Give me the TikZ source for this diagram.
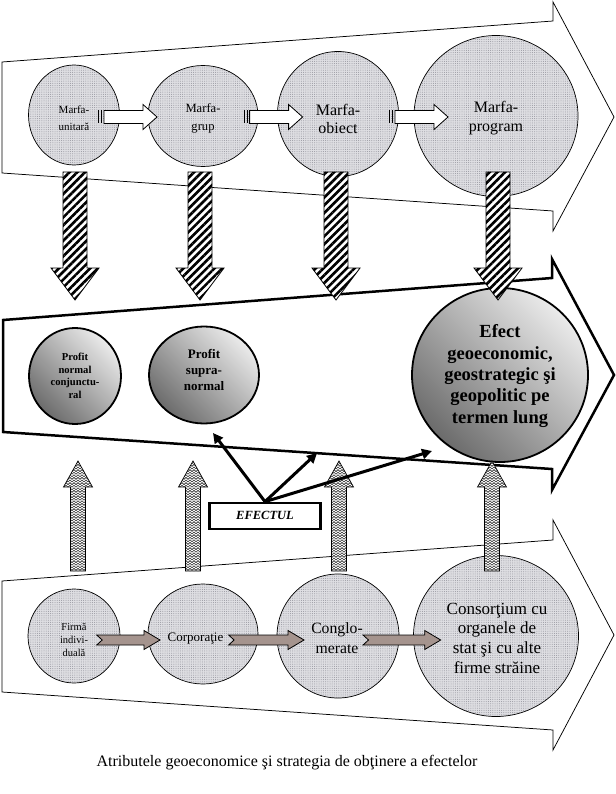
\documentclass[tikz,border=0pt]{standalone}
\usepackage{fontspec}
\setmainfont{Liberation Serif}
\usetikzlibrary{shapes.geometric,arrows.meta,patterns,patterns.meta}

\definecolor{marble}{RGB}{222,222,226}
\definecolor{marbdot}{RGB}{150,150,158}
\definecolor{notchc}{RGB}{165,148,142}

\tikzdeclarepattern{
  name=zz,
  type=uncolored,
  bounding box={(0pt,-0.5pt) and (4pt,2.5pt)},
  tile size={(4pt,2.6pt)},
  code={\draw[line width=0.6pt] (0pt,0pt) -- (2pt,2pt) -- (4pt,0pt);}
}

\newcommand\mkdown[1]{\draw[hatcharrow] (#1-12,172) -- (#1+12,172) -- (#1+12,268) -- (#1+24,268) -- (#1,300) -- (#1-24,268) -- (#1-12,268) -- cycle;}
\newcommand\mkup[1]{\draw[zzarrow] (#1-7.5,571) -- (#1-7.5,487) -- (#1-14.5,487) -- (#1,461) -- (#1+14.5,487) -- (#1+7.5,487) -- (#1+7.5,571) -- cycle;}
\newcommand\mkstripe[1]{%
  \fill (#1,110.5) rectangle (#1+1.4,123.5);
  \fill (#1+3,110.5) rectangle (#1+4.4,123.5);
  \draw[stripearrow] (#1+6,110.5) -- (#1+45,110.5) -- (#1+45,104.5) -- (#1+59,117) -- (#1+45,129.5) -- (#1+45,123.5) -- (#1+6,123.5) -- cycle;}
\newcommand\mknotch[2]{\draw[notcharrow] (#1,635) -- (#2-16,635) -- (#2-16,630.5) -- (#2,640) -- (#2-16,649.5) -- (#2-16,645) -- (#1,645) -- (#1+5.5,640) -- cycle;}

\tikzset{
  bigarrow/.style={draw, line width=0.75pt, fill=white},
  midarrow/.style={draw, line width=2.5pt, fill=white},
  marb/.style={ellipse, draw, line width=0.7pt, preaction={fill=marble}, pattern={Dots[radius=0.5pt,distance=2.2pt]}, pattern color=marbdot, inner sep=0pt},
  shd/.style={ellipse, draw, line width=1.8pt, inner sep=0pt, top color=black!8, bottom color=black!58, shading angle=-45},
  hatcharrow/.style={line width=0.8pt, preaction={fill=white}, pattern={Lines[angle=45,distance=5.5pt,line width=2.6pt]}},
  zzarrow/.style={line width=0.7pt, preaction={fill=white}, pattern=zz, pattern color=black!85},
  stripearrow/.style={line width=0.8pt, fill=white},
  notcharrow/.style={line width=0.8pt, fill=notchc},
  efbox/.style={draw, line width=2.3pt, fill=white, minimum width=111pt, minimum height=26pt, inner sep=0pt},
  efline/.style={line width=3pt, -{Triangle[length=10pt,width=10pt]}},
  lbl/.style={align=center, inner sep=0pt},
}

\begin{document}
\begin{tikzpicture}[x=1pt,y=-1pt]
\useasboundingbox (0,0) rectangle (615,794);

% big arrows
\draw[bigarrow] (2,62) -- (553,21) -- (553,2) -- (614,117) -- (553,231) -- (553,211) -- (2,173) -- cycle;
\draw[midarrow] (3,320) -- (552,278) -- (552,259) -- (614,375) -- (552,490) -- (552,469) -- (3,432) -- cycle;
\draw[bigarrow] (2,581) -- (553,540) -- (553,520) -- (614,635) -- (553,750) -- (553,730) -- (2,692) -- cycle;

% top row circles
\node[marb, minimum width=91pt, minimum height=100pt] (u1) at (74,115) {};
\node[marb, minimum width=110pt, minimum height=101pt] (u2) at (203,116) {};
\node[marb, minimum width=121pt, minimum height=125pt] (u3) at (338,114) {};
\node[marb, minimum width=164pt, minimum height=161pt] (u4) at (496,116) {};

% bottom row circles
\node[marb, minimum width=92pt, minimum height=94pt] (b1) at (74,636) {};
\node[marb, minimum width=110pt, minimum height=100pt] (b2) at (203,634) {};
\node[marb, minimum width=122pt, minimum height=124pt] (b3) at (338,636) {};
\node[marb, minimum width=165pt, minimum height=161pt] (b4) at (496,636) {};

% middle circles
\node[shd, minimum width=92pt, minimum height=96pt] (m1) at (75,376) {};
\node[shd, minimum width=110pt, minimum height=97pt] (m2) at (204,375) {};
\node[shd, minimum width=176pt, minimum height=174pt] (m3) at (500,375) {};

% texts top row
\node[lbl, font=\fontsize{11}{17}\selectfont] (tu1) at (74,118) {Marfa-\\unitară};
\node[lbl, font=\fontsize{12.6}{18}\selectfont] (tu2) at (203,118) {Marfa-\\grup};
\node[lbl, font=\fontsize{16}{18}\selectfont] (tu3) at (338,119) {Marfa-\\obiect};
\node[lbl, font=\fontsize{16}{19}\selectfont] (tu4) at (496,118) {Marfa-\\program};

% texts bottom row
\node[lbl, font=\fontsize{10.5}{13.3}\selectfont] (tb1) at (74,640) {Firmă\\indivi-\\duală};
\node[lbl, font=\fontsize{13}{15}\selectfont] (tb2) at (195.5,639) {Corporaţie};
\node[lbl, font=\fontsize{15.7}{20}\selectfont] (tb3) at (337,638) {Conglo-\\merate};
\node[lbl, font=\fontsize{17}{19.7}\selectfont] (tb4) at (497,638) {Consorţium cu\\organele de\\stat şi cu alte\\firme străine};

% texts middle
\node[lbl, font=\fontsize{10.6}{12.6}\selectfont\bfseries] (tm1) at (75,376) {Profit\\normal\\conjunctu-\\ral};
\node[lbl, font=\fontsize{13}{16}\selectfont\bfseries] (tm2) at (204,370) {Profit\\supra-\\normal};
\node[lbl, font=\fontsize{18.5}{21.4}\selectfont\bfseries] (tm3) at (500,376) {Efect\\geoeconomic,\\geostrategic şi\\geopolitic pe\\termen lung};

% striped arrows (top row)
\mkstripe{98}
\mkstripe{243.6}
\mkstripe{389}

% notched arrows (bottom row)
\mknotch{96.7}{160}
\mknotch{228.6}{304}
\mknotch{363}{440.7}

% hatched down arrows
\mkdown{75}
\mkdown{200}
\mkdown{336}
\mkdown{498}

% zigzag up arrows
\mkup{78}
\mkup{193}
\mkup{339}
\mkup{492}

% EFECTUL
\node[efbox, font=\fontsize{12.5}{14}\selectfont\bfseries\itshape] (ef) at (265,515.8) {EFECTUL};
\coordinate (e1) at (213,433);
\coordinate (e2) at (317,453);
\coordinate (e3) at (432,451);
\draw[efline] (ef.north) -- (e1);
\draw[efline] (ef.north) -- (e2);
\draw[efline] (ef.north) -- (e3);

% caption
\node[font=\fontsize{16}{18}\selectfont, inner sep=0pt] (cap) at (287,763) {Atributele geoeconomice şi strategia de obţinere a efectelor};
\end{tikzpicture}
\end{document}
